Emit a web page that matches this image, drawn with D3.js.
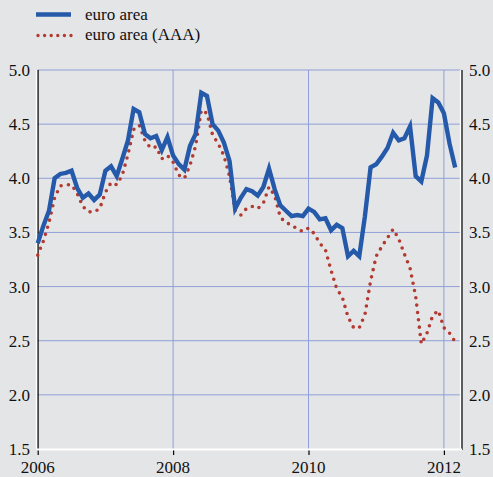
<!DOCTYPE html>
<html>
<head>
<meta charset="utf-8">
<script src="https://cdn.jsdelivr.net/npm/d3@7"></script>
<style>
  body { margin: 0; background: #e4e5e7; }
  svg { display: block; }
</style>
</head>
<body>
<svg></svg>
<script>
// monthly, Jan 2006 - Mar 2012
var months = [];
for (var yr = 2006; yr <= 2012; yr++) {
  for (var m = 1; m <= 12; m++) {
    if (yr == 2012 && m > 3) break;
    months.push(yr + "-" + (m < 10 ? "0" + m : m));
  }
}

var euroArea = [
  3.40, 3.56, 3.70, 4.00, 4.04, 4.05, 4.07, 3.91, 3.82, 3.86,
  3.80, 3.85, 4.07, 4.11, 4.02, 4.18, 4.35, 4.64, 4.61, 4.41,
  4.37, 4.39, 4.26, 4.38, 4.21, 4.13, 4.08, 4.30, 4.41, 4.79,
  4.76, 4.50, 4.44, 4.33, 4.16, 3.72, 3.82, 3.90, 3.88, 3.84,
  3.92, 4.09, 3.90, 3.75, 3.70, 3.65, 3.66, 3.65, 3.72, 3.69,
  3.62, 3.63, 3.52, 3.57, 3.54, 3.28, 3.33, 3.28, 3.65, 4.10,
  4.13, 4.20, 4.28, 4.42, 4.35, 4.37, 4.48, 4.02, 3.97, 4.21,
  4.74, 4.70, 4.60, 4.32, 4.10
];

var euroAreaAAA = [
  3.29, 3.42, 3.59, 3.82, 3.93, 3.94, 3.94, 3.86, 3.74, 3.69,
  3.69, 3.72, 3.87, 3.96, 3.94, 4.03, 4.22, 4.45, 4.49, 4.35,
  4.28, 4.29, 4.18, 4.21, 4.15, 4.03, 4.00, 4.12, 4.30, 4.63,
  4.60, 4.40, 4.32, 4.21, 4.02, 3.70, 3.66, 3.72, 3.74, 3.72,
  3.77, 3.92, 3.84, 3.64, 3.59, 3.57, 3.53, 3.51, 3.54, 3.49,
  3.40, 3.34, 3.15, 2.98, 2.90, 2.72, 2.62, 2.62, 2.74, 3.05,
  3.28, 3.37, 3.45, 3.53, 3.44, 3.30, 3.17, 2.91, 2.47, 2.57,
  2.73, 2.78, 2.62, 2.57, 2.49
];

var yTicks = [1.5, 2.0, 2.5, 3.0, 3.5, 4.0, 4.5, 5.0];
var xTicks = [2006, 2008, 2010, 2012];
var legendLabels = ["euro area", "euro area (AAA)"];

var data = months.map(function(d, i) {
  var p = d.split("-");
  return { t: +p[0] + (+p[1] - 1) / 12, a: euroArea[i], aaa: euroAreaAAA[i] };
});

drawChart(data);

function drawChart(data) {
  var svgWidth = 493, svgHeight = 477;
  var left = 37.7, right = 462, top = 70, bottom = 449;
  var font = "'Times New Roman', 'Liberation Serif', Tinos, 'DejaVu Serif', serif";

  var svg = d3.select("svg")
      .attr("width", svgWidth)
      .attr("height", svgHeight);

  svg.append("rect")
      .attr("width", svgWidth).attr("height", svgHeight)
      .attr("fill", "#e4e5e7");

  var x = d3.scaleLinear()
      .domain([2006, 2006 + (right - left) / 67.7])
      .range([left, right]);

  var y = d3.scaleLinear()
      .domain([1.5, 5.0])
      .range([bottom, top]);

  var grid = "#909fd9";

  // horizontal grid
  svg.append("g")
    .selectAll("line")
    .data(yTicks.filter(function(d) { return d > 1.5; }))
    .enter().append("line")
      .attr("x1", left).attr("x2", right - 1.5)
      .attr("y1", function(d) { return y(d); })
      .attr("y2", function(d) { return y(d); })
      .attr("stroke", grid).attr("stroke-width", 1);

  // vertical grid
  svg.append("g")
    .selectAll("line")
    .data(xTicks.slice(1))
    .enter().append("line")
      .attr("x1", function(d) { return x(d); })
      .attr("x2", function(d) { return x(d); })
      .attr("y1", top).attr("y2", bottom)
      .attr("stroke", grid).attr("stroke-width", 1);

  // left axis
  svg.append("line")
      .attr("x1", left - 1.3).attr("x2", left - 1.3)
      .attr("y1", top).attr("y2", bottom)
      .attr("stroke", "#fff").attr("stroke-width", 1.2);
  svg.append("line")
      .attr("x1", left + 0.4).attr("x2", left + 0.4)
      .attr("y1", top).attr("y2", bottom)
      .attr("stroke", "#000").attr("stroke-width", 1.2);

  // right axis
  svg.append("line")
      .attr("x1", right - 1.6).attr("x2", right - 1.6)
      .attr("y1", top).attr("y2", bottom)
      .attr("stroke", "#fff").attr("stroke-width", 1.2);
  svg.append("line")
      .attr("x1", right).attr("x2", right)
      .attr("y1", top).attr("y2", bottom + 1)
      .attr("stroke", "#000").attr("stroke-width", 1.2);

  // bottom axis
  svg.append("line")
      .attr("x1", left - 1).attr("x2", right)
      .attr("y1", bottom + 0.5).attr("y2", bottom + 0.5)
      .attr("stroke", "#fff").attr("stroke-width", 2);
  svg.append("g")
    .selectAll("line")
    .data(xTicks)
    .enter().append("line")
      .attr("x1", function(d) { return x(d) + 0.5; })
      .attr("x2", function(d) { return x(d) + 0.5; })
      .attr("y1", bottom + 1.5).attr("y2", bottom + 6)
      .attr("stroke", "#000").attr("stroke-width", 1.2);

  // tick labels
  svg.append("g")
    .selectAll("text")
    .data(yTicks)
    .enter().append("text")
      .attr("x", 30)
      .attr("y", function(d) { return y(d) + 6; })
      .attr("text-anchor", "end")
      .style("font-family", font)
      .style("font-size", "17px")
      .attr("fill", "#111")
      .text(function(d) { return d.toFixed(1); });

  svg.append("g")
    .selectAll("text")
    .data(yTicks)
    .enter().append("text")
      .attr("x", 469)
      .attr("y", function(d) { return y(d) + 6; })
      .attr("text-anchor", "start")
      .style("font-family", font)
      .style("font-size", "17px")
      .attr("fill", "#111")
      .text(function(d) { return d.toFixed(1); });

  svg.append("g")
    .selectAll("text")
    .data(xTicks)
    .enter().append("text")
      .attr("x", function(d) { return x(d); })
      .attr("y", 473)
      .attr("text-anchor", "middle")
      .style("font-family", font)
      .style("font-size", "17px")
      .attr("fill", "#111")
      .text(function(d) { return d; });

  var lineA = d3.line()
      .x(function(d) { return x(d.t); })
      .y(function(d) { return y(d.a); });

  var lineAAA = d3.line()
      .x(function(d) { return x(d.t); })
      .y(function(d) { return y(d.aaa); });

  svg.append("path")
      .datum(data)
      .attr("fill", "none")
      .attr("stroke", "#b23a30")
      .attr("stroke-width", 3.6)
      .attr("stroke-linecap", "round")
      .attr("stroke-dasharray", "0 7.4")
      .attr("d", lineAAA);

  svg.append("path")
      .datum(data)
      .attr("fill", "none")
      .attr("stroke", "#2559a9")
      .attr("stroke-width", 4.4)
      .attr("stroke-linejoin", "miter")
      .attr("d", lineA);

  // legend
  var lg = svg.append("g");
  lg.append("line")
      .attr("x1", 36).attr("x2", 71)
      .attr("y1", 14.5).attr("y2", 14.5)
      .attr("stroke", "#2559a9").attr("stroke-width", 4.6);
  lg.append("line")
      .attr("x1", 38).attr("x2", 71)
      .attr("y1", 35.5).attr("y2", 35.5)
      .attr("stroke", "#b23a30").attr("stroke-width", 3.4)
      .attr("stroke-linecap", "round")
      .attr("stroke-dasharray", "0 6.6");
  lg.selectAll("text")
    .data(legendLabels)
    .enter().append("text")
      .attr("x", 85)
      .attr("y", function(d, i) { return 20 + i * 20; })
      .style("font-family", font)
      .style("font-size", "17px")
      .attr("fill", "#111")
      .text(function(d) { return d; });
}
</script>
</body>
</html>
